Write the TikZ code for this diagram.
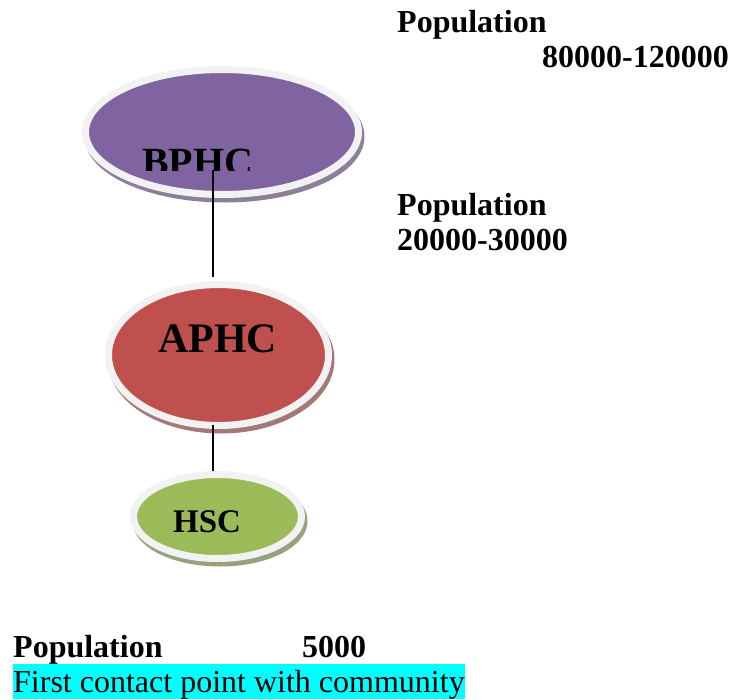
\documentclass[tikz,border=0pt]{standalone}
\usepackage{fontspec}
\setmainfont{Liberation Serif}
\usetikzlibrary{calc}
\usetikzlibrary{shapes.geometric,shadows}
\definecolor{bphcfill}{HTML}{8064A2}
\definecolor{aphcfill}{HTML}{C0504D}
\definecolor{hscfill}{HTML}{9BBB59}
\definecolor{ringgray}{HTML}{F2F2F2}
\definecolor{hilite}{HTML}{00FFFF}

\begin{document}
\begin{tikzpicture}[x=1pt,y=-1pt,
	level/.style={ellipse, inner sep=0pt, draw=ringgray, line width=7pt, fill=#1,
		drop shadow={shadow xshift=2.5pt, shadow yshift=-4.5pt, opacity=1,
			fill=#1!60!black!65, draw=#1!60!black!65, line width=7pt}},
	poptxt/.style={anchor=base west, inner sep=0pt, font=\fontsize{32}{38}\selectfont\bfseries},
	conn/.style={line width=2pt, black}]
			\useasboundingbox (0,0) rectangle (731,699);

			\node[level=bphcfill, minimum width=273, minimum height=125] (bphc) at (222,132) {};
			\node[level=aphcfill, minimum width=220, minimum height=141] (aphc) at (218.5,355) {};
			\node[level=hscfill, minimum width=168, minimum height=84] (hsc) at (217.5,516.5) {};

			%BPHC label is cut off at its box
			\begin{scope}
				\clip (0,0) rectangle (731,170);
				\node[poptxt, font=\fontsize{40}{46}\selectfont\bfseries] (bphct) at ($(bphc)+(-80,43)$) {BPHC};
			\end{scope}
			\node[poptxt, font=\fontsize{42}{48}\selectfont\bfseries] (aphct) at ($(aphc)+(-60.5,-3)$) {APHC};
			\node[poptxt, font=\fontsize{33}{40}\selectfont\bfseries] (hsct) at ($(hsc)+(-44.5,15.5)$) {HSC};

			\coordinate (b1) at (212.5,170);

			\draw[conn] (b1) -- ($(b1 |- aphc.north)+(0,-4)$);
			\draw[conn] ($(b1 |- aphc.south)+(0,-4)$) -- (b1 |- hsc.north);

			\node[poptxt] (pop1) at (397,32) {Population};
			\node[poptxt] (rng1) at (542,67) {80000-120000};
			\node[poptxt] (pop2) at (397,215) {Population};
			\node[poptxt] (rng2) at (397,250) {20000-30000};

			\node[poptxt] (pop3) at (13,657) {Population};
			\node[poptxt] (rng3) at (302,657) {5000};
			\node[poptxt, font=\fontsize{32}{38}\selectfont, fill=hilite, text height=28pt, text depth=7pt] (note) at (13,692) {First contact point with community};

		\end{tikzpicture}
\end{document}
